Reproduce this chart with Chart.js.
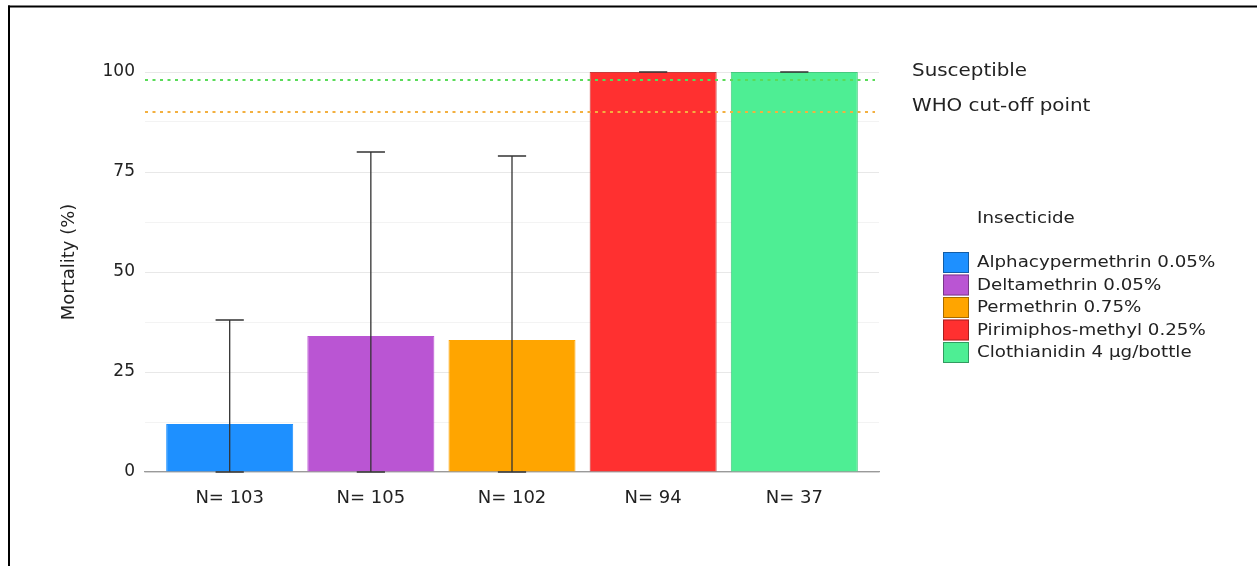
<!DOCTYPE html>
<html>
<head>
<meta charset="utf-8">
<script src="https://cdn.jsdelivr.net/npm/chart.js@4.4.1/dist/chart.umd.min.js"></script>
<style>
  html, body { margin: 0; padding: 0; background: #ffffff; }
  canvas { display: block; }
</style>
</head>
<body>
<canvas id="c" width="1257" height="566"></canvas>
<script>
// ---- data ----
const categories = ['N= 103', 'N= 105', 'N= 102', 'N= 94', 'N= 37'];
const insecticides = ['Alphacypermethrin 0.05%', 'Deltamethrin 0.05%', 'Permethrin 0.75%', 'Pirimiphos-methyl 0.25%', 'Clothianidin 4 \u00b5g/bottle'];
const mortality = [12, 34, 33, 100, 100];
const ciLow = [0, 0, 0, 100, 100];
const ciHigh = [38, 80, 79, 100, 100];
const barColors = ['#1E90FF', '#BA55D3', '#FFA500', '#FF3030', '#4EEE94'];
const barBorders = ['#1E90FF', '#BA55D3', '#FFA500', '#C83A3A', '#46C97F'];
const yTicks = [0, 25, 50, 75, 100];
const yMinorTicks = [12.5, 37.5, 62.5, 87.5];
const thresholds = [98, 90];
const thresholdLabels = ['Susceptible', 'WHO cut-off point'];
const thresholdColors = ['#5ADB5A', '#F3B040'];
const legendTitle = 'Insecticide';
const yTitle = 'Mortality (%)';

const FONT = "'DejaVu Sans', 'Open Sans', sans-serif";

function stretchText(ctx, text, x, y, size, color, stretch) {
  ctx.save();
  ctx.font = size + 'px ' + FONT;
  ctx.fillStyle = color;
  ctx.textBaseline = 'middle';
  ctx.textAlign = 'left';
  ctx.translate(x, y);
  ctx.scale(stretch, 1);
  ctx.fillText(text, 0, 0);
  ctx.restore();
}

const overlay = {
  id: 'overlay',
  afterDatasetsDraw(chart) {
    const ctx = chart.ctx;
    const xs = chart.scales.x, ys = chart.scales.y;
    // error bars
    ctx.save();
    ctx.strokeStyle = '#333333';
    ctx.lineWidth = 1.3;
    for (let i = 0; i < mortality.length; i++) {
      const xc = xs.getPixelForValue(i + 1);
      const xl = xs.getPixelForValue(i + 1 - 0.1);
      const xr = xs.getPixelForValue(i + 1 + 0.1);
      const yl = ys.getPixelForValue(ciLow[i]);
      const yh = ys.getPixelForValue(ciHigh[i]);
      ctx.beginPath();
      ctx.moveTo(xc, yl); ctx.lineTo(xc, yh);
      ctx.moveTo(xl, yl); ctx.lineTo(xr, yl);
      ctx.moveTo(xl, yh); ctx.lineTo(xr, yh);
      ctx.stroke();
    }
    ctx.restore();
    // threshold lines
    ctx.save();
    ctx.lineWidth = 2;
    ctx.setLineDash([3, 4.5]);
    for (let t = 0; t < thresholds.length; t++) {
      const y = ys.getPixelForValue(thresholds[t]);
      ctx.strokeStyle = thresholdColors[t];
      ctx.beginPath();
      ctx.moveTo(xs.left, y);
      ctx.lineTo(xs.right - 4, y);
      ctx.stroke();
    }
    ctx.restore();
  },
  afterDraw(chart) {
    const ctx = chart.ctx;
    const ys = chart.scales.y;
    const xs = chart.scales.x;
    // threshold labels
    const labY = [ys.getPixelForValue(100), ys.getPixelForValue(thresholds[1]) - 5];
    for (let t = 0; t < thresholdLabels.length; t++) {
      stretchText(ctx, thresholdLabels[t], xs.right + 33, labY[t], 17, '#222222', 1.17);
    }
    // legend
    stretchText(ctx, legendTitle, 977, 219, 16, '#222222', 1.14);
    for (let i = 0; i < insecticides.length; i++) {
      const top = 252 + i * 22.5;
      ctx.save();
      ctx.fillStyle = barColors[i];
      ctx.fillRect(943, top, 26, 21);
      ctx.strokeStyle = 'rgba(0,0,0,0.35)';
      ctx.lineWidth = 1;
      ctx.strokeRect(943.5, top + 0.5, 25, 20);
      ctx.restore();
      stretchText(ctx, insecticides[i], 977, top + 11, 16, '#222222', 1.14);
    }
    // frame (top and left edges)
    ctx.save();
    ctx.fillStyle = '#000000';
    ctx.fillRect(8, 5.5, 1257 - 8, 2);
    ctx.fillRect(8, 5.5, 2, 566);
    ctx.restore();
  }
};

new Chart(document.getElementById('c'), {
  type: 'bar',
  data: {
    datasets: [{
      data: mortality.map((v, i) => ({ x: i + 1, y: v })),
      backgroundColor: barColors,
      borderColor: barBorders,
      borderWidth: 1,
      categoryPercentage: 1.0,
      barPercentage: 0.9
    }]
  },
  options: {
    responsive: false,
    animation: false,
    events: [],
    layout: { padding: { left: 0, right: 378, top: 52, bottom: 0 } },
    plugins: { legend: { display: false }, tooltip: { enabled: false } },
    scales: {
      x: {
        type: 'linear',
        offset: false,
        min: 0.4,
        max: 5.6,
        afterBuildTicks(scale) { scale.ticks = categories.map((c, i) => ({ value: i + 1 })); },
        afterFit(scale) { scale.height = 94; },
        ticks: {
          callback: (v) => categories[Math.round(v) - 1] || '',
          font: { family: FONT, size: 18 },
          color: '#222222',
          padding: 16,
          maxRotation: 0,
          autoSkip: false
        },
        grid: { display: false, drawTicks: false, offset: false },
        border: { display: true, color: '#9a9a9a', width: 1.3 }
      },
      y: {
        min: 0,
        max: 105,
        afterBuildTicks(scale) {
          scale.ticks = yTicks.concat(yMinorTicks).sort((a, b) => a - b).map(v => ({ value: v }));
        },
        afterFit(scale) { scale.width = 145; },
        ticks: {
          callback: (v) => (yTicks.indexOf(v) >= 0 ? String(v) : ''),
          font: { family: FONT, size: 17 },
          color: '#222222',
          padding: 10
        },
        grid: {
          drawTicks: false,
          color: (c) => (c.tick && yTicks.indexOf(c.tick.value) >= 0 ? '#e8e8e8' : '#f3f3f3'),
          lineWidth: 1
        },
        border: { display: false },
        title: {
          display: true,
          text: yTitle,
          font: { family: FONT, size: 18 },
          color: '#222222',
          padding: { top: 59, bottom: 0 }
        }
      }
    }
  },
  plugins: [overlay]
});
</script>
</body>
</html>
